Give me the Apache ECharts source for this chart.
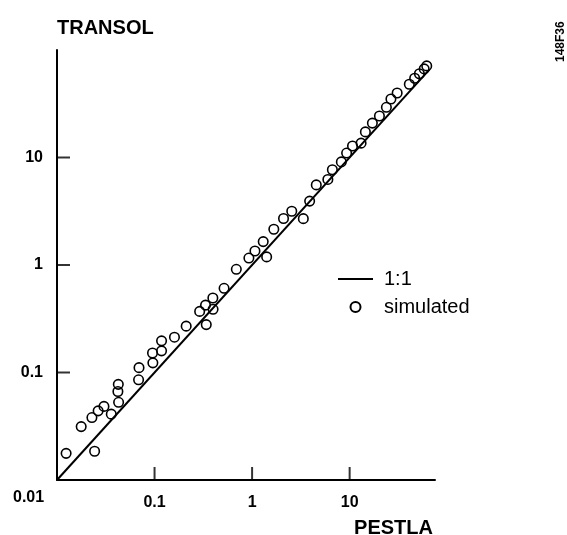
<!DOCTYPE html>
<html>
<head>
<meta charset="utf-8">
<script src="https://cdn.jsdelivr.net/npm/echarts@6/dist/echarts.min.js"></script>
<style>
  html, body { margin: 0; padding: 0; background: #fff; }
  #main { width: 567px; height: 535px; }
</style>
</head>
<body>
<div id="main"></div>
<script>
// PESTLA (x) vs TRANSOL (y)
var pestla = [0.0124, 0.0177, 0.0243, 0.0228, 0.0264, 0.0303, 0.036, 0.0428, 0.0421, 0.0425,
    0.0686, 0.0693, 0.0961, 0.0953, 0.118, 0.118, 0.160, 0.211, 0.290, 0.339,
    0.333, 0.398, 0.396, 0.516, 0.689, 0.927, 1.41, 1.07, 1.30, 1.67,
    2.10, 2.55, 3.35, 3.89, 4.55, 5.98, 6.65, 8.22, 9.31, 10.7,
    13.1, 14.5, 17.1, 20.2, 23.8, 26.5, 30.7, 40.9, 46.4, 51.9, 58.1, 61.7];
var transol = [0.0177, 0.0314, 0.0185, 0.0381, 0.044, 0.0484, 0.041, 0.0528, 0.0665, 0.0776,
    0.0855, 0.111, 0.123, 0.152, 0.159, 0.197, 0.213, 0.270, 0.370, 0.279,
    0.423, 0.387, 0.493, 0.607, 0.912, 1.16, 1.19, 1.35, 1.65, 2.15,
    2.71, 3.16, 2.70, 3.93, 5.56, 6.25, 7.69, 9.10, 11.0, 12.8,
    13.6, 17.3, 20.9, 24.3, 29.3, 35.0, 39.8, 48.0, 54.6, 60.1, 66.7, 71.1];
var oneToOne = [0.01, 66];
var xTicks = [0.1, 1, 10];
var yTicks = [0.1, 1, 10];
var axisMin = 0.01;

var font = "'Liberation Sans', Arial, sans-serif";

function fmt(v) {
    return String(+v.toPrecision(6));
}

var chart = echarts.init(document.getElementById('main'));

var option = {
    animation: false,
    backgroundColor: '#fff',
    textStyle: { fontFamily: font, color: '#000' },
    grid: { left: 57, top: 50, width: 378, height: 430, containLabel: false, outerBoundsMode: 'none' },
    legend: {
        orient: 'vertical',
        left: 332,
        top: 264,
        itemWidth: 35,
        itemHeight: 10,
        itemGap: 8,
        textStyle: { fontFamily: font, fontSize: 20, color: '#000',
            rich: { t: { fontFamily: font, fontSize: 20, padding: [0, 0, 0, 6] } } },
        formatter: function (name) { return '{t|' + name + '}'; },
        data: [
            { name: '1:1', itemStyle: { opacity: 0 } },
            { name: 'simulated', icon: 'circle' }
        ]
    },
    xAxis: {
        type: 'log',
        min: axisMin,
        max: 75,
        name: 'PESTLA',
        nameLocation: 'end',
        nameGap: 0,
        nameTextStyle: { fontFamily: font, fontSize: 20, fontWeight: 'bold', color: '#000',
            align: 'right', verticalAlign: 'top', padding: [38, 2, 0, 0] },
        axisLine: { lineStyle: { color: '#000', width: 2 } },
        axisTick: { show: false },
        splitLine: { show: false },
        axisLabel: { fontFamily: font, fontSize: 16, fontWeight: 'bold', color: '#000', margin: 15,
            showMinLabel: false, showMaxLabel: false, formatter: fmt }
    },
    yAxis: {
        type: 'log',
        min: axisMin,
        max: 100,
        name: 'TRANSOL',
        nameLocation: 'end',
        nameGap: 12,
        nameTextStyle: { fontFamily: font, fontSize: 20, fontWeight: 'bold', color: '#000',
            align: 'left', verticalAlign: 'bottom' },
        axisLine: { lineStyle: { color: '#000', width: 2 } },
        axisTick: { show: false },
        splitLine: { show: false },
        axisLabel: { fontFamily: font, fontSize: 16, fontWeight: 'bold', color: '#000', margin: 14,
            showMinLabel: false, showMaxLabel: false, formatter: fmt }
    },
    graphic: [
        { type: 'text', left: 13, top: 490, style: { text: '0.01', font: 'bold 16px ' + font, fill: '#000' } },
        { type: 'text', x: 567, y: 62, rotation: Math.PI / 2,
            style: { text: '148F36', font: 'bold 12px ' + font, fill: '#000', align: 'left', verticalAlign: 'bottom' } }
    ],
    series: [
        {
            name: '1:1',
            type: 'line',
            symbol: 'none',
            silent: true,
            lineStyle: { color: '#000', width: 2 },
            itemStyle: { color: '#000' },
            data: [[oneToOne[0], oneToOne[0]], [oneToOne[1], oneToOne[1]]],
            z: 2
        },
        {
            name: 'simulated',
            type: 'scatter',
            symbol: 'circle',
            symbolSize: 9.5,
            itemStyle: { color: 'rgba(255,255,255,0)', borderColor: '#000', borderWidth: 1.6, opacity: 1 },
            data: pestla.map(function (x, i) { return [x, transol[i]]; }),
            z: 3
        },
        {
            name: 'yticks',
            type: 'scatter',
            silent: true,
            symbol: 'rect',
            symbolSize: [13, 2],
            symbolOffset: [6.5, 0],
            itemStyle: { color: '#000' },
            data: yTicks.map(function (v) { return [axisMin, v]; }),
            z: 4
        },
        {
            name: 'xticks',
            type: 'scatter',
            silent: true,
            symbol: 'rect',
            symbolSize: [2, 13],
            symbolOffset: [0, -6.5],
            itemStyle: { color: '#000' },
            data: xTicks.map(function (v) { return [v, axisMin]; }),
            z: 4
        }
    ]
};

chart.setOption(option);
</script>
</body>
</html>
